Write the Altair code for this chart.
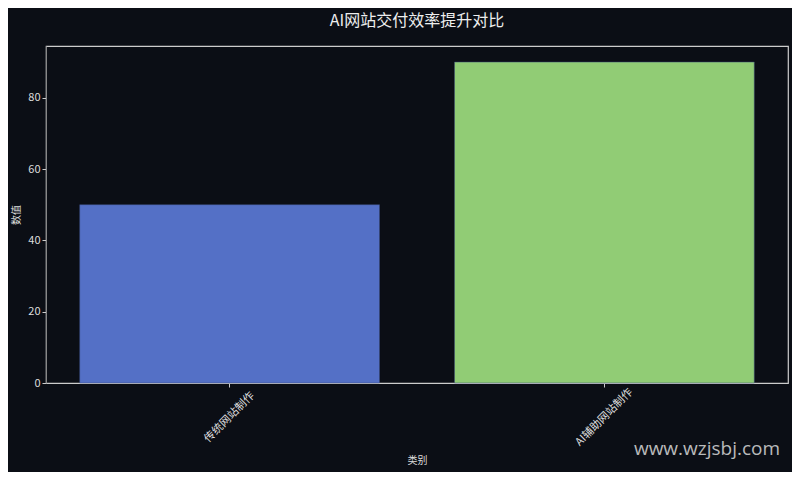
import altair as alt
import pandas as pd

categories = ["传统网站制作", "AI辅助网站制作"]
values = [50, 90]
colors = ["#5470c6", "#91cc75"]
y_ticks = [0, 20, 40, 60, 80]

df = pd.DataFrame({"类别": categories, "数值": values, "color": colors})

FONT = "Noto Sans CJK SC"
BG = "#0b0e15"

bars = alt.Chart(df).mark_bar(stroke="#3a4a7a", strokeWidth=0.5).encode(
    x=alt.X("类别:N", sort=categories,
            scale=alt.Scale(paddingInner=0.2, paddingOuter=0.09),
            axis=alt.Axis(title="类别", labelAngle=-45, labelAlign="center",
                          labelBaseline="middle", labelPadding=30,
                          titlePadding=8, domain=False, tickSize=4)),
    y=alt.Y("数值:Q", scale=alt.Scale(domain=[0, 94.5], nice=False, zero=True),
            axis=alt.Axis(title="数值", values=y_ticks, grid=False, tickSize=4,
                          domainColor="#888888", titlePadding=6)),
    color=alt.Color("color:N", scale=None),
)

wm = alt.Chart(pd.DataFrame({"t": ["www.wzjsbj.com"]})).mark_text(
    fontSize=19, font="Open Sans", color="#d8d8d8", opacity=0.85, align="center",
    baseline="middle", clip=False
).encode(
    text="t:N", x=alt.value(661), y=alt.value(403)
)

chart = alt.layer(bars, wm).properties(
    width=742, height=337,
    title=alt.TitleParams("AI网站交付效率提升对比", fontSize=16, font=FONT,
                          color="#eeeeee", fontWeight="normal", anchor="middle",
                          offset=17),
    background=BG,
    autosize=alt.AutoSizeParams(type="none"),
    padding={"left": 38, "top": 38, "right": 4, "bottom": 89},
).configure_view(
    stroke="#cccccc", strokeWidth=1.2, fill=BG
).configure_axis(
    labelFont=FONT, titleFont=FONT, labelColor="#dddddd", titleColor="#dddddd",
    labelFontSize=11, titleFontSize=10, titleFontWeight="normal",
    tickColor="#cccccc", domainColor="#cccccc"
)

chart.save("out.html", embed_options={"renderer": "svg", "actions": False})
